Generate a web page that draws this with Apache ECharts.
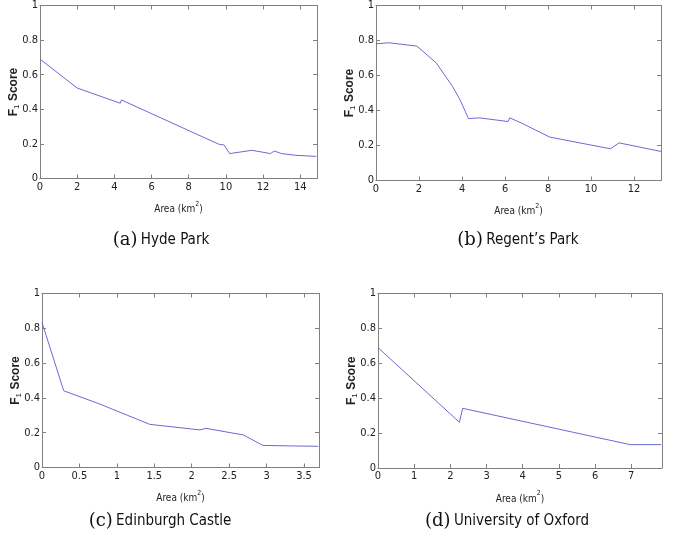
<!DOCTYPE html>
<html>
<head>
<meta charset="utf-8">
<script src="https://cdn.jsdelivr.net/npm/echarts@6/dist/echarts.min.js"></script>
<style>
html,body{margin:0;padding:0;background:#fff;}
#chart{width:673px;height:542px;}
</style>
</head>
<body>
<div id="chart"></div>
<script>
// ---- Data ----
const hydeX = [0, 2, 4.32, 4.38, 9.64, 9.9, 10.2, 11.4, 12.4, 12.6, 13.0, 13.75, 14.86];
const hydeY = [0.69, 0.523, 0.435, 0.454, 0.197, 0.194, 0.144, 0.163, 0.144, 0.159, 0.144, 0.134, 0.128];

const regentX = [0, 0.6, 1.9, 2.8, 3.55, 3.9, 4.3, 4.8, 6.14, 6.18, 6.22, 6.8, 8.08, 10.9, 11.3, 13.25];
const regentY = [0.781, 0.787, 0.768, 0.672, 0.539, 0.463, 0.354, 0.358, 0.337, 0.333, 0.358, 0.326, 0.248, 0.181, 0.215, 0.166];

const edinX = [0, 0.29, 0.77, 1.44, 2.11, 2.19, 2.69, 2.95, 3.33, 3.69];
const edinY = [0.834, 0.441, 0.365, 0.248, 0.216, 0.225, 0.187, 0.127, 0.124, 0.122];

const oxfX = [0, 2.25, 2.34, 6.97, 7.83];
const oxfY = [0.69, 0.262, 0.342, 0.134, 0.134];

const captionLetters = ['(a)', '(b)', '(c)', '(d)'];
const captionNames = ['Hyde Park', "Regent\u2019s Park", 'Edinburgh Castle', 'University of Oxford'];
const xMax = [14.9, 13.25, 3.7, 7.85];
const xInterval = [2, 2, 0.5, 1];
const yTicks = [0, 0.2, 0.4, 0.6, 0.8, 1];

// ---- Layout ----
const NARROW = "'Liberation Sans Narrow','DejaVu Sans Condensed','Liberation Sans',sans-serif";
const grids = [
  {left: 40, top: 4.5, width: 277, height: 174},
  {left: 376, top: 5, width: 285, height: 175.5},
  {left: 42, top: 293.5, width: 277, height: 174},
  {left: 378, top: 293.5, width: 284, height: 174.5}
];
const seriesData = [[hydeX, hydeY], [regentX, regentY], [edinX, edinY], [oxfX, oxfY]];
const AX = '#808080';
const LINE = '#6a6ad4';

const xAxes = [], yAxes = [], series = [];
grids.forEach((g, i) => {
  const common = {
    type: 'value', gridIndex: i, min: 0, max: xMax[i], interval: xInterval[i],
    splitLine: {show: false},
    axisLine: {show: true, onZero: false, lineStyle: {color: AX, width: 1}},
    axisTick: {show: true, inside: true, length: 4, lineStyle: {color: AX}}
  };
  xAxes.push(Object.assign({}, common, {
    position: 'bottom',
    axisLabel: {show: true, showMaxLabel: false, showMinLabel: true, margin: 3,
      color: '#222', fontSize: 11, fontFamily: NARROW},
    name: '{t|Area (km}{s|2}{t|)}',
    nameLocation: 'middle', nameGap: 22, nameMoveOverlap: false,
    nameTextStyle: {color: '#222', rich: {
      t: {fontSize: 10, fontFamily: NARROW, color: '#222', lineHeight: 14, verticalAlign: 'bottom'},
      s: {fontSize: 7, fontFamily: NARROW, color: '#222', lineHeight: 14, verticalAlign: 'top'}
    }}
  }));
  xAxes.push(Object.assign({}, common, {
    position: 'top', axisLabel: {show: false}
  }));
  const ycommon = {
    type: 'value', gridIndex: i, min: 0, max: 1, interval: 0.2,
    splitLine: {show: false},
    axisLine: {show: true, onZero: false, lineStyle: {color: AX, width: 1}},
    axisTick: {show: true, inside: true, length: 4, lineStyle: {color: AX}}
  };
  yAxes.push(Object.assign({}, ycommon, {
    position: 'left',
    axisLabel: {show: true, margin: 2, color: '#222', fontSize: 11, fontFamily: NARROW,
      formatter: v => String(+v.toFixed(1))},
    name: '{b|F}{s|1}{b| Score}',
    nameLocation: 'middle', nameGap: 19, nameRotate: 90, nameMoveOverlap: false,
    nameTextStyle: {rich: {
      b: {fontSize: 12, fontFamily: "'Liberation Sans',sans-serif", fontWeight: 'bold', color: '#222', lineHeight: 13, verticalAlign: 'top'},
      s: {fontSize: 8, fontFamily: "'Liberation Sans',sans-serif", color: '#222', lineHeight: 13, verticalAlign: 'bottom'}
    }}
  }));
  yAxes.push(Object.assign({}, ycommon, {
    position: 'right', axisLabel: {show: false}
  }));
  const [xs, ys] = seriesData[i];
  series.push({
    type: 'line', xAxisIndex: 2 * i, yAxisIndex: 2 * i,
    data: xs.map((x, k) => [x, ys[k]]),
    showSymbol: false, symbol: 'none', animation: false,
    lineStyle: {color: LINE, width: 1}
  });
});

const captionPos = [[161, 240], [518, 240], [160, 521], [507, 521]];
const graphics = captionPos.map((p, i) => ({
  type: 'text', x: p[0], y: p[1],
  style: {
    text: '{l|' + captionLetters[i] + '} {n|' + captionNames[i] + '}',
    align: 'center', verticalAlign: 'middle',
    rich: {
      l: {fontSize: 18, fontFamily: "'DejaVu Serif','Liberation Serif',serif", fill: '#111'},
      n: {fontSize: 15, fontFamily: NARROW, fill: '#111'}
    }
  }
}));

const chart = echarts.init(document.getElementById('chart'), null, {renderer: 'canvas'});
chart.setOption({
  animation: false,
  grid: grids.map(g => Object.assign({containLabel: false}, g)),
  xAxis: xAxes,
  yAxis: yAxes,
  series: series,
  graphic: graphics
});
</script>
</body>
</html>
